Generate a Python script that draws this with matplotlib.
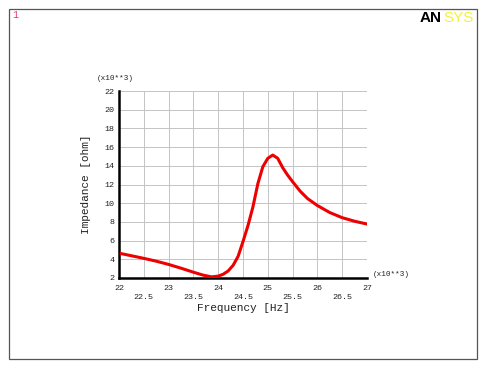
import numpy as np
import matplotlib
matplotlib.use('Agg')
import matplotlib.pyplot as plt
from matplotlib.patches import Rectangle

# frequency (x10**3 Hz) and impedance (x10**3 ohm)
freq = [22.05, 22.25, 22.5, 22.75, 23.0, 23.25, 23.5, 23.7, 23.87, 24.0, 24.1, 24.2,
        24.3, 24.4, 24.5, 24.6, 24.7, 24.8, 24.9, 25.0, 25.1, 25.2, 25.3, 25.4,
        25.5, 25.65, 25.8, 26.0, 26.25, 26.5, 26.75, 27.0]
imped = [4.6, 4.38, 4.1, 3.8, 3.45, 3.05, 2.62, 2.3, 2.12, 2.2, 2.4, 2.75,
         3.35, 4.3, 5.9, 7.6, 9.6, 12.1, 13.9, 14.8, 15.15, 14.8, 13.8, 13.0,
         12.3, 11.3, 10.5, 9.75, 9.0, 8.45, 8.07, 7.77]
xmajor = [22, 23, 24, 25, 26, 27]
xminor = [22.5, 23.5, 24.5, 25.5, 26.5]
yticks = list(range(2, 23, 2))

mono = 'Liberation Mono'
fig = plt.figure(figsize=(4.92, 3.70), dpi=100)
W, H = 492, 370

# outer frame
fig.patches.append(Rectangle((9 / W, 1 - 359 / H), (477 - 9) / W, (359 - 9) / H,
                             transform=fig.transFigure, fill=False, ec='#555555', lw=0.9))

ax = fig.add_axes([119 / W, 1 - 278 / H, (367 - 119) / W, (278 - 91) / H])
ax.plot(freq, imped, color='#ee0000', lw=2.2, solid_joinstyle='round', zorder=3)
ax.set_xlim(22, 27)
ax.set_ylim(2, 22)
ax.set_xticks(xmajor + xminor)
ax.set_xticklabels([])
ax.set_yticks(yticks)
ax.set_yticklabels([str(v) for v in yticks], fontsize=6, family=mono, color='#222222')
ax.tick_params(length=0, pad=3)
ax.grid(True, color='#c4c4c4', lw=0.7)
for s in ['top', 'right']:
    ax.spines[s].set_visible(False)
for s in ['left', 'bottom']:
    ax.spines[s].set_linewidth(1.8)
    ax.spines[s].set_color('black')

for v in xmajor:
    ax.text(v, -0.055, str(v), transform=ax.get_xaxis_transform(), ha='center', va='center',
            fontsize=6, family=mono, color='#222222')
for v in xminor:
    ax.text(v, -0.105, str(v), transform=ax.get_xaxis_transform(), ha='center', va='center',
            fontsize=6, family=mono, color='#222222')

ax.set_xlabel('Frequency [Hz]', fontsize=8, family=mono, labelpad=15, color='#222222')
ax.set_ylabel('Impedance [ohm]', fontsize=8, family=mono, labelpad=10, color='#222222')

fig.text(97 / W, 1 - 78 / H, '(x10**3)', fontsize=5.5, family=mono, va='center', color='#222222')
fig.text(373 / W, 1 - 274 / H, '(x10**3)', fontsize=5.5, family=mono, va='center', color='#222222')
fig.text(12 / W, 1 - 15 / H, '1', fontsize=7, family=mono, color='#ee3377', va='center')
fig.text(420 / W, 1 - 18 / H, 'AN', fontsize=11, fontweight='bold', family='Liberation Sans',
         color='black', va='center')
fig.text(443 / W, 1 - 18 / H, 'SYS', fontsize=11, family='Liberation Sans',
         color='#f2f23a', va='center')

fig.savefig('out.png', dpi=100, facecolor='white')
